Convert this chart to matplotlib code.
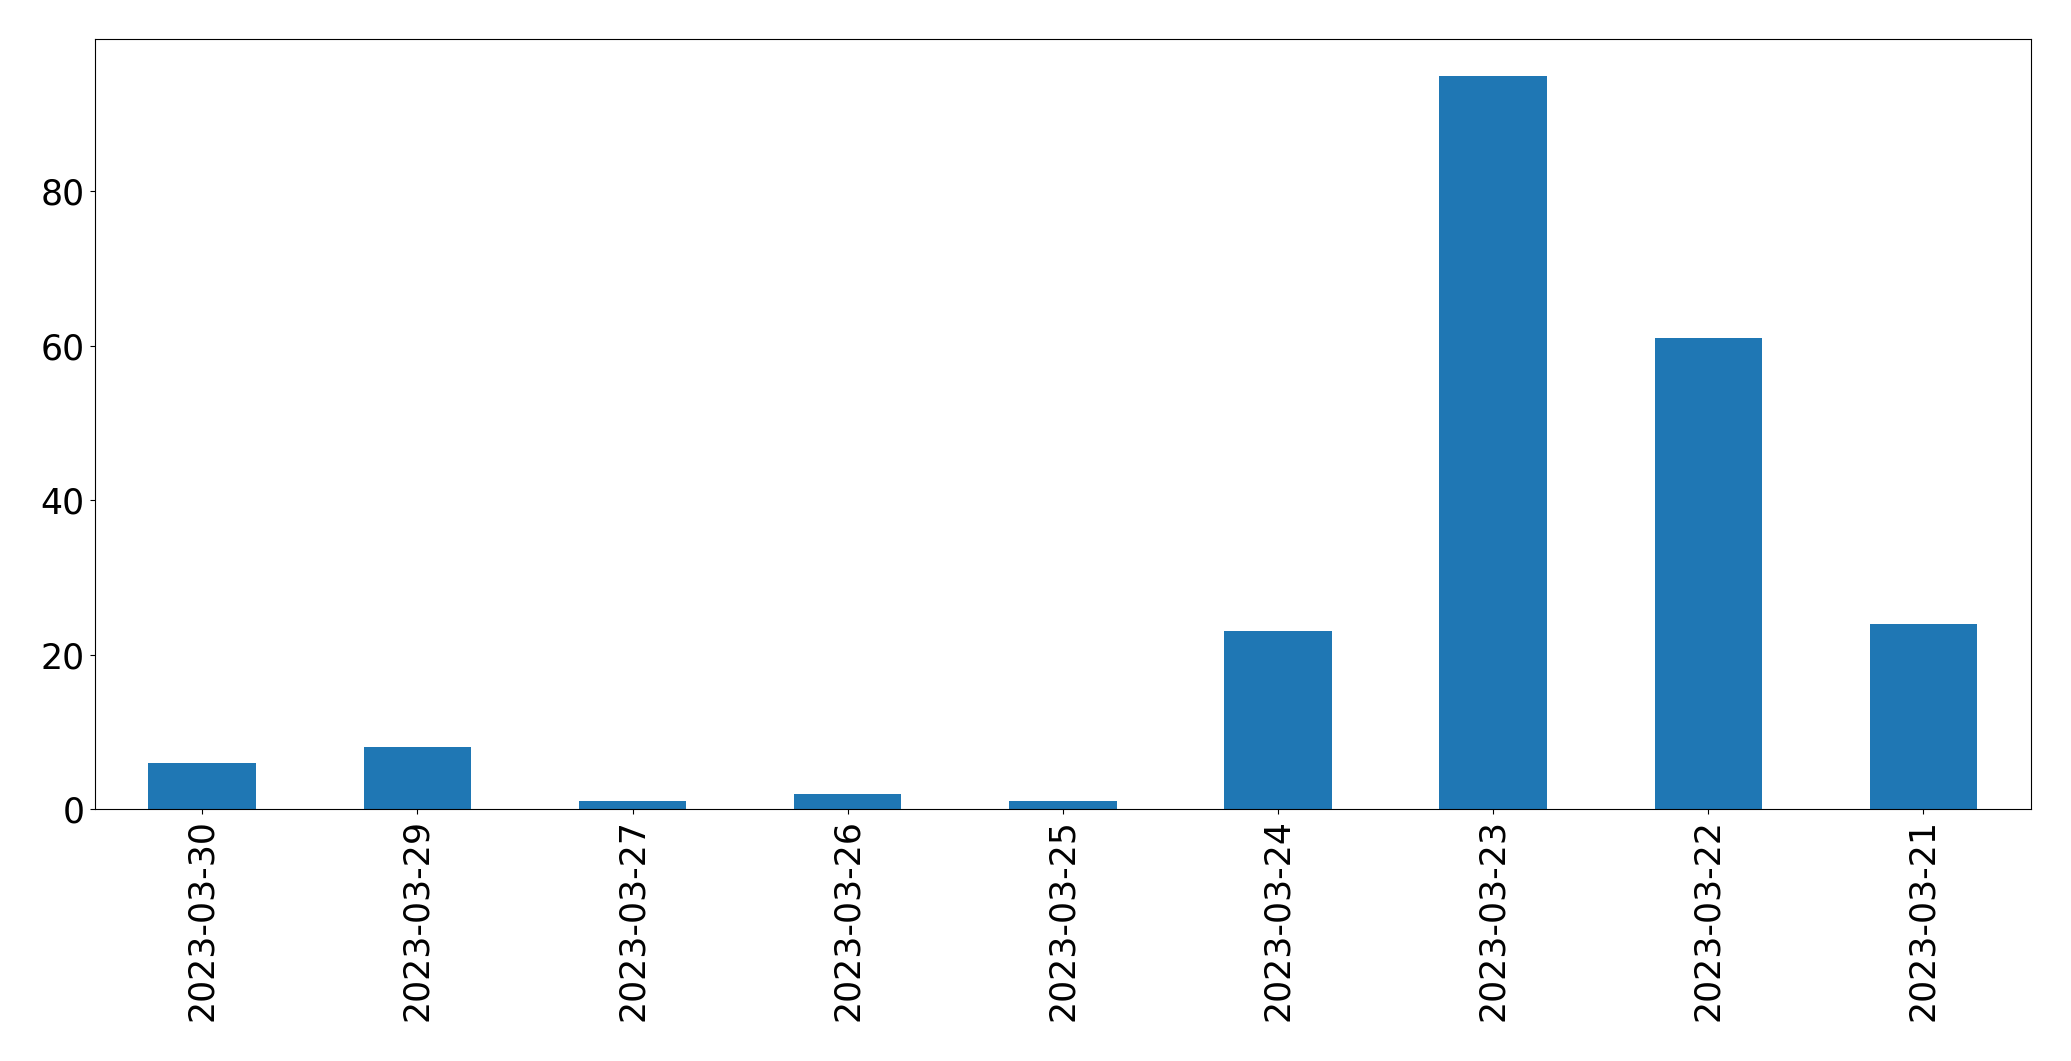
import pandas as pd
import matplotlib.pyplot as plt

dates = ["2023-03-30", "2023-03-29", "2023-03-27", "2023-03-26", "2023-03-25",
         "2023-03-24", "2023-03-23", "2023-03-22", "2023-03-21"]
counts = [6, 8, 1, 2, 1, 23, 95, 61, 24]

s = pd.Series(counts, index=dates)

fig = plt.figure(figsize=(20.71, 10.61), dpi=100)
ax = fig.add_axes([0.0457, 0.2375, 0.9350, 0.7257])

s.plot(kind="bar", ax=ax, fontsize=25)

plt.savefig("out.png", dpi=100)
